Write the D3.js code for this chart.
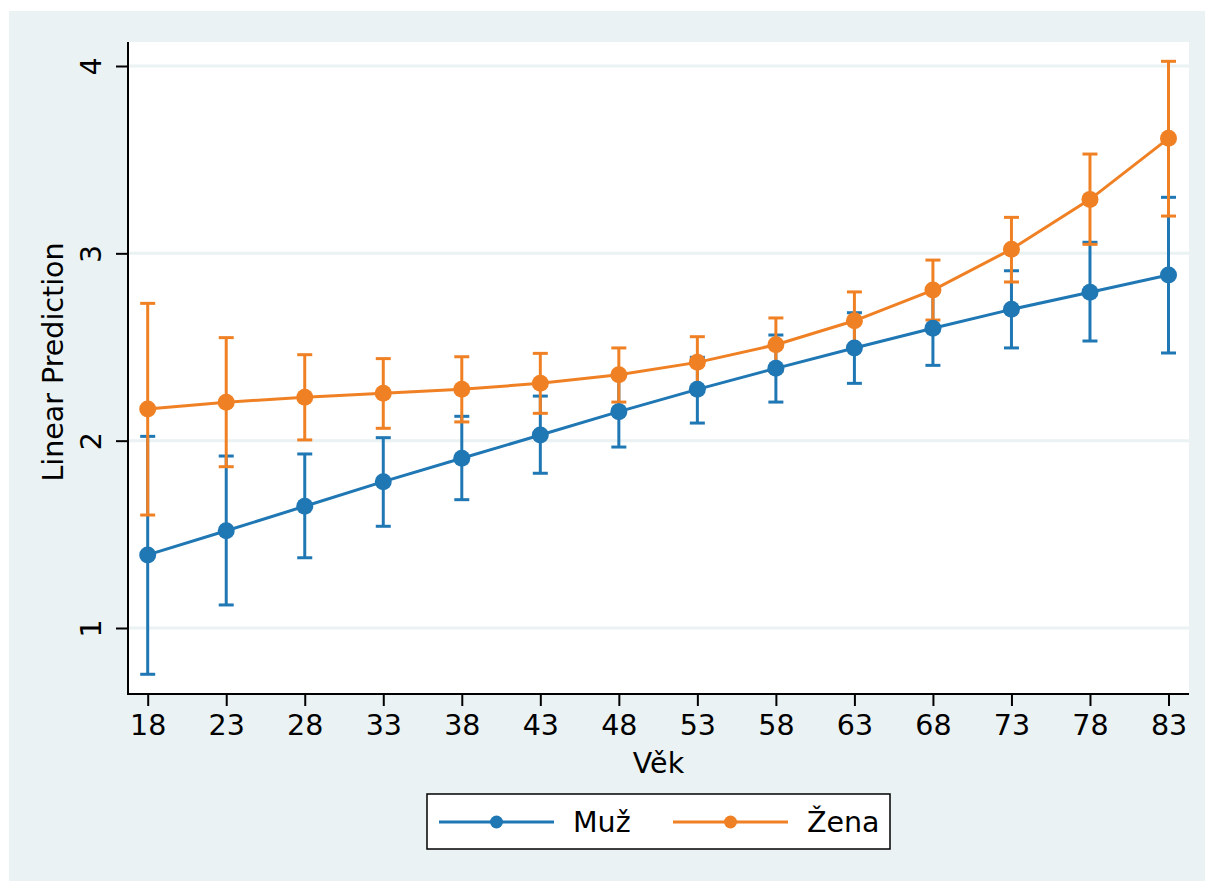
<!DOCTYPE html>
<html lang="cs">
<head>
    <meta charset="UTF-8">
    <title>Linear Prediction by Věk</title>
    <style>
        body {
            margin: 0;
            background: #fff;
            font-family: 'DejaVu Sans', Verdana, sans-serif;
        }
        .axis path, .axis line {
            stroke: #000;
            stroke-width: 2px;
        }
    </style>
</head>
<body>
    <div id="chart"></div>

    <script src="https://d3js.org/d3.v7.min.js"></script>
    <script>
        // ages on the x axis
        const ages = [18, 23, 28, 33, 38, 43, 48, 53, 58, 63, 68, 73, 78, 83];
        const yTicks = [1, 2, 3, 4];

        // Muž: point estimate and 95% CI
        const muzFit = [1.390, 1.519, 1.650, 1.781, 1.906, 2.030, 2.155, 2.274, 2.386, 2.495, 2.600, 2.701, 2.792, 2.884];
        const muzLow = [0.753, 1.123, 1.375, 1.543, 1.685, 1.826, 1.966, 2.094, 2.206, 2.306, 2.402, 2.495, 2.532, 2.468];
        const muzHigh = [2.023, 1.918, 1.929, 2.016, 2.130, 2.238, 2.344, 2.445, 2.564, 2.683, 2.798, 2.907, 3.059, 3.299];

        // Žena
        const zenaFit = [2.169, 2.205, 2.232, 2.253, 2.274, 2.306, 2.352, 2.418, 2.512, 2.640, 2.804, 3.022, 3.288, 3.614];
        const zenaLow = [1.603, 1.861, 2.004, 2.066, 2.100, 2.146, 2.206, 2.281, 2.369, 2.486, 2.644, 2.847, 3.048, 3.199];
        const zenaHigh = [2.733, 2.550, 2.459, 2.438, 2.448, 2.466, 2.495, 2.555, 2.655, 2.794, 2.964, 3.192, 3.530, 4.025];

        const seriesNames = ['Muž', 'Žena'];
        const colors = ['#1f77b4', '#f08024'];

        const width = 1205;
        const height = 881;
        const bgColor = '#eaf2f3';
        const fontSize = 28.5;

        // plot region
        const plot = { left: 128, right: 1189, top: 42, bottom: 694 };

        const xScale = d3.scaleLinear()
            .domain([18, 83])
            .range([147.7, 1168.5]);

        const yScale = d3.scaleLinear()
            .domain([1, 4])
            .range([628, 66]);

        const series = [
            { name: seriesNames[0], color: colors[0], fit: muzFit, low: muzLow, high: muzHigh },
            { name: seriesNames[1], color: colors[1], fit: zenaFit, low: zenaLow, high: zenaHigh }
        ];

        const svg = d3.select('#chart')
            .append('svg')
            .attr('width', width)
            .attr('height', height);

        // outer background
        svg.append('rect')
            .attr('x', 9)
            .attr('y', 11)
            .attr('width', width - 9)
            .attr('height', height - 11)
            .attr('fill', bgColor);

        svg.append('rect')
            .attr('x', plot.left)
            .attr('y', plot.top)
            .attr('width', plot.right - plot.left)
            .attr('height', plot.bottom - plot.top)
            .attr('fill', '#fff');

        // grid lines
        svg.append('g')
            .selectAll('line')
            .data(yTicks)
            .enter()
                .append('line')
                .attr('x1', plot.left)
                .attr('x2', plot.right)
                .attr('y1', d => yScale(d))
                .attr('y2', d => yScale(d))
                .attr('stroke', bgColor)
                .attr('stroke-width', 3);

        // error bars first, then connected lines on top
        const capHalf = 7.5;
        series.forEach(s => {
            const g = svg.append('g')
                .attr('stroke', s.color)
                .attr('stroke-width', 3);

            g.selectAll('.bar')
                .data(ages)
                .enter()
                    .append('line')
                    .attr('class', 'bar')
                    .attr('x1', d => xScale(d))
                    .attr('x2', d => xScale(d))
                    .attr('y1', (d, i) => yScale(s.low[i]))
                    .attr('y2', (d, i) => yScale(s.high[i]));

            ['low', 'high'].forEach(k => {
                g.selectAll('.cap-' + k)
                    .data(ages)
                    .enter()
                        .append('line')
                        .attr('class', 'cap-' + k)
                        .attr('x1', d => xScale(d) - capHalf)
                        .attr('x2', d => xScale(d) + capHalf)
                        .attr('y1', (d, i) => yScale(s[k][i]))
                        .attr('y2', (d, i) => yScale(s[k][i]));
            });
        });

        const line = d3.line()
            .x(d => xScale(d[0]))
            .y(d => yScale(d[1]));

        series.forEach(s => {
            const pts = ages.map((a, i) => [a, s.fit[i]]);

            svg.append('path')
                .datum(pts)
                .attr('d', line)
                .attr('fill', 'none')
                .attr('stroke', s.color)
                .attr('stroke-width', 3);

            svg.append('g')
                .selectAll('circle')
                .data(pts)
                .enter()
                    .append('circle')
                    .attr('cx', d => xScale(d[0]))
                    .attr('cy', d => yScale(d[1]))
                    .attr('r', 8.5)
                    .attr('fill', s.color);
        });

        // axes
        const xAxis = d3.axisBottom(xScale)
            .tickValues(ages)
            .tickFormat(d3.format('d'))
            .tickSize(12)
            .tickSizeOuter(0);

        const yAxis = d3.axisLeft(yScale)
            .tickValues(yTicks)
            .tickFormat(d3.format('d'))
            .tickSize(12)
            .tickSizeOuter(0);

        const xg = svg.append('g')
            .attr('class', 'x axis')
            .attr('transform', `translate(0, ${plot.bottom})`)
            .call(xAxis)
            .attr('font-size', fontSize)
            .attr('font-family', null);
        xg.select('.domain').remove();
        xg.selectAll('text')
            .attr('dy', null)
            .attr('y', 40.5)
            .attr('fill', '#000');

        const yg = svg.append('g')
            .attr('class', 'y axis')
            .attr('transform', `translate(${plot.left}, 0)`)
            .call(yAxis)
            .attr('font-size', fontSize)
            .attr('font-family', null);
        yg.select('.domain').remove();
        yg.selectAll('.tick text')
            .attr('x', null)
            .attr('dy', null)
            .attr('fill', '#000')
            .attr('text-anchor', 'middle')
            .attr('transform', 'translate(-27, 0) rotate(-90)');

        // axis lines drawn as plain lines so they meet at the corner
        svg.append('line')
            .attr('x1', plot.left).attr('x2', plot.left)
            .attr('y1', plot.top).attr('y2', plot.bottom + 1)
            .attr('stroke', '#000').attr('stroke-width', 2);
        svg.append('line')
            .attr('x1', plot.left - 1).attr('x2', plot.right)
            .attr('y1', plot.bottom).attr('y2', plot.bottom)
            .attr('stroke', '#000').attr('stroke-width', 2);

        // titles
        svg.append('text')
            .attr('x', (plot.left + plot.right) / 2)
            .attr('y', 773)
            .attr('text-anchor', 'middle')
            .attr('font-size', fontSize)
            .text('Věk');

        svg.append('text')
            .attr('transform', `translate(63, 362) rotate(-90)`)
            .attr('text-anchor', 'middle')
            .attr('font-size', fontSize)
            .text('Linear Prediction');

        // legend
        const legend = svg.append('g');
        legend.append('rect')
            .attr('x', 427)
            .attr('y', 794)
            .attr('width', 463)
            .attr('height', 55)
            .attr('fill', '#fff')
            .attr('stroke', '#000')
            .attr('stroke-width', 1.5);

        const legendX = [439, 673];
        series.forEach((s, i) => {
            const x0 = legendX[i];
            legend.append('line')
                .attr('x1', x0).attr('x2', x0 + 115)
                .attr('y1', 822).attr('y2', 822)
                .attr('stroke', s.color)
                .attr('stroke-width', 3);
            legend.append('circle')
                .attr('cx', x0 + 57.5)
                .attr('cy', 822)
                .attr('r', 6.5)
                .attr('fill', s.color);
            legend.append('text')
                .attr('x', x0 + 134)
                .attr('y', 832)
                .attr('font-size', fontSize)
                .text(s.name);
        });
    </script>
</body>
</html>
